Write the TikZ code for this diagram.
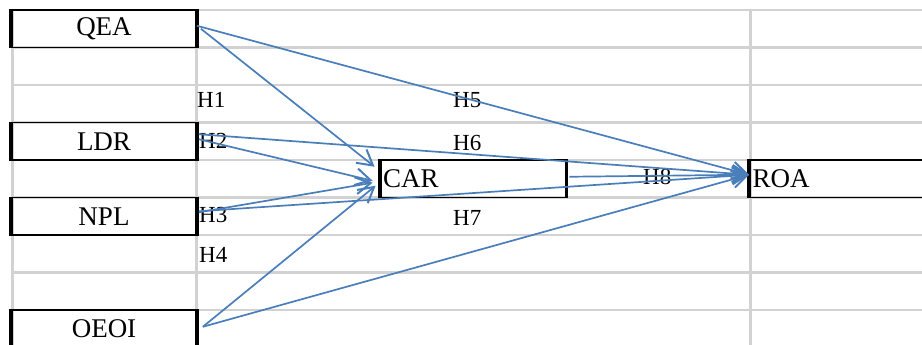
\documentclass[tikz,border=0pt]{standalone}
\usepackage{fontspec}
\setmainfont{Liberation Serif}
\usetikzlibrary{arrows.meta}
\definecolor{gridgray}{RGB}{210,210,210}
\definecolor{linkblue}{RGB}{74,126,187}
\begin{document}
\begin{tikzpicture}[x=1pt,y=-1pt,
  grid/.style={draw=gridgray,line width=2.2pt},
  vgrid/.style={draw=gridgray,line width=3pt},
  cell/.style={draw=black,line width=1.8pt,inner sep=0pt,minimum height=37.5pt,
    font=\fontsize{27}{30}\selectfont},
  leftcell/.style={cell,minimum width=184pt},
  textcell/.style={cell,inner xsep=2.5pt,text width=180pt,align=left},
  side/.style={line width=3.8pt},
  hlabel/.style={anchor=base west,inner sep=0pt,font=\fontsize{23}{26}\selectfont},
  link/.style={draw=linkblue,line width=1.7pt,
    -{Straight Barb[length=15pt,width=17pt,line width=2pt]}}
]
\useasboundingbox (0,0) rectangle (922,345);
\fill[white] (0,0) rectangle (922,345);
\clip (0,0) rectangle (922,345);

% spreadsheet grid
\foreach \yy in {10,47.5,85,122.5,160,197.5,235,272.5,310}
  \draw[grid] (12,\yy) -- (922,\yy);
\foreach \xx in {12,196,750}
  \draw[vgrid] (\xx,10) -- (\xx,345);

% cells
\node[leftcell] (QEA)  at (104,28.75)  {QEA};
\node[leftcell] (LDR)  at (104,141.25) {LDR};
\node[leftcell] (NPL)  at (104,216.25) {NPL};
\node[leftcell] (OEOI) at (104,328.75) {OEOI};
\node[textcell] (CAR)  at (473,178.75) {CAR};
\node[textcell,text width=182pt] (ROA) at (843.5,178.75) {ROA};

% thick cell sides
\foreach \n in {QEA,LDR,NPL,OEOI,CAR,ROA}{
  \draw[side] (\n.north west) -- (\n.south west);
}
\foreach \n in {QEA,LDR,NPL,OEOI,CAR}{
  \draw[side] (\n.north east) -- (\n.south east);
}

% hypothesis labels
\node[hlabel] (H1) at (197,108) {H1};
\node[hlabel] (H2) at (199,148) {H2};
\node[hlabel] (H3) at (199,222) {H3};
\node[hlabel] (H4) at (199,262) {H4};
\node[hlabel] (H5) at (453,108) {H5};
\node[hlabel] (H6) at (453,150) {H6};
\node[hlabel] (H7) at (453,225) {H7};
\node[hlabel] (H8) at (643,184) {H8};

% connectors
\coordinate (roatip) at ([yshift=4pt]ROA.west);
\draw[link] ([yshift=3pt]QEA.east) -- (roatip);
\draw[link] ([xshift=4pt]QEA.east) -- ([xshift=-5pt,yshift=12pt]CAR.west);
\draw[link] ([xshift=2pt,yshift=7pt]LDR.east) -- (roatip);
\draw[link] ([xshift=2pt,yshift=2pt]LDR.east) -- ([xshift=-7pt,yshift=-2pt]CAR.west);
\draw[link] ([xshift=2pt,yshift=4pt]NPL.east) -- ([xshift=-7pt,yshift=-4pt]CAR.west);
\draw[link] ([xshift=2pt,yshift=5pt]NPL.east) -- (roatip);
\draw[link] ([xshift=6pt,yshift=2pt]OEOI.east) -- ([xshift=-4pt,yshift=-7pt]CAR.west);
\draw[link] ([xshift=6pt,yshift=2pt]OEOI.east) -- (roatip);
\draw[link] ([xshift=3pt,yshift=2pt]CAR.east) -- (roatip);
\end{tikzpicture}
\end{document}
